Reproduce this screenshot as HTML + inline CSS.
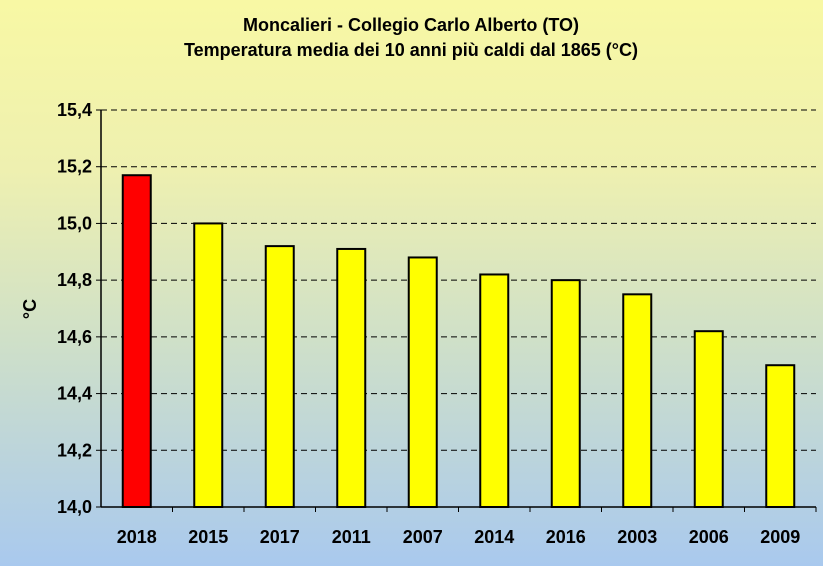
<!DOCTYPE html>
<html style="height:566px;background:#a9c9ee;"><head><meta charset="utf-8"><style>
html,body{margin:0;padding:0;}
body{width:823px;height:566px;overflow:hidden;}
#bg{position:absolute;left:0;top:0;width:823px;height:566px;background:linear-gradient(#f8f8a4 0%,#eef0b0 30%,#cfe0c8 60%,#a9c9ee 100%);}
svg{position:absolute;left:0;top:0;}
svg text{font-family:"Liberation Sans",sans-serif;font-weight:bold;fill:#000;}
</style></head><body>
<div id="bg"></div>
<svg id="chart" width="823" height="566" xmlns="http://www.w3.org/2000/svg">
<text x="411" y="31" text-anchor="middle" font-size="18">Moncalieri - Collegio Carlo Alberto (TO)</text>
<text x="411" y="56" text-anchor="middle" font-size="18">Temperatura media dei 10 anni più caldi dal 1865 (°C)</text>
<text transform="translate(36,309) rotate(-90)" text-anchor="middle" font-size="18">°C</text>
<g id="grid"></g><g id="bars"></g><g id="axes"></g>
</svg>
<script>
const categories=["2018","2015","2017","2011","2007","2014","2016","2003","2006","2009"];
const values=[15.17,15.00,14.92,14.91,14.88,14.82,14.80,14.75,14.62,14.50];
const yTicks=[14.0,14.2,14.4,14.6,14.8,15.0,15.2,15.4];
const yTickLabels=["14,0","14,2","14,4","14,6","14,8","15,0","15,2","15,4"];
const NS="http://www.w3.org/2000/svg";
const X0=101,X1=816,Y0=507,Y1=110,VMIN=14.0,VMAX=15.4;
const y=v=>Y0-(v-VMIN)/(VMAX-VMIN)*(Y0-Y1);
const bw=(X1-X0)/categories.length;
const x=i=>X0+bw*i;
function mk(t,a,p){const e=document.createElementNS(NS,t);for(const k in a)e.setAttribute(k,a[k]);p.appendChild(e);return e;}
const grid=document.getElementById('grid'),bars=document.getElementById('bars'),axes=document.getElementById('axes');
yTicks.forEach((v,i)=>{
  if(i>0){const l=mk('line',{x1:X0,x2:X1,y1:y(v),y2:y(v),stroke:'#000','stroke-dasharray':'6,4','stroke-width':1},grid);
  
  }
  const tk=mk('line',{x1:X0-5,x2:X0,y1:y(v),y2:y(v),stroke:'#000'},axes);
  
  
  const t=mk('text',{x:X0-9,y:y(v)+6,'text-anchor':'end','font-size':18},axes);
  t.textContent=yTickLabels[i];
  
  
});
categories.forEach((c,i)=>{
  const cx=x(i)+bw/2;
  const r=mk('rect',{x:cx-14,y:y(values[i]),width:28,height:Y0-y(values[i]),fill:i===0?'#ff0000':'#ffff00',stroke:'#000','stroke-width':2},bars);
  
  
  const tk=mk('line',{x1:x(i+1),x2:x(i+1),y1:Y0,y2:Y0+5,stroke:'#000'},axes);
  
  
  const t=mk('text',{x:cx,y:Y0+36,'text-anchor':'middle','font-size':18},axes);
  t.textContent=c;
  
  
});
const ya=mk('line',{x1:X0,x2:X0,y1:Y1,y2:Y0,stroke:'#000','stroke-width':1.5},axes);


const xa=mk('line',{x1:X0,x2:X1,y1:Y0,y2:Y0,stroke:'#000','stroke-width':1.5},axes);


</script>
</body></html>
